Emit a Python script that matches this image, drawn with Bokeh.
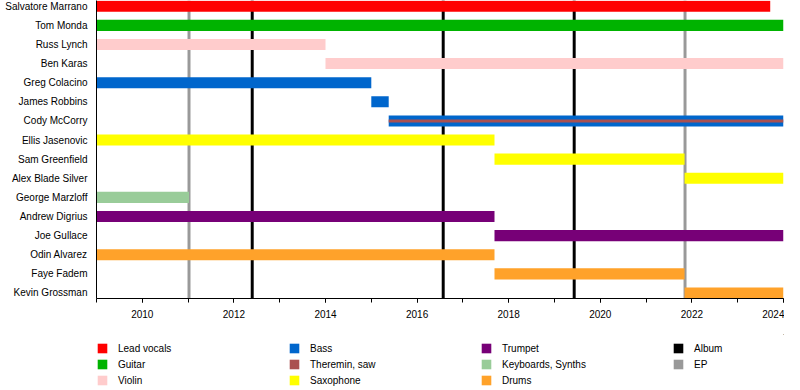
from bokeh.plotting import figure
from bokeh.layouts import column
from bokeh.models import (Range1d, FixedTicker, SingleIntervalTicker, Legend,
                          LegendItem, ColumnDataSource)
from bokeh.embed import file_html
from bokeh.resources import INLINE

members = ["Salvatore Marrano", "Tom Monda", "Russ Lynch", "Ben Karas",
           "Greg Colacino", "James Robbins", "Cody McCorry", "Ellis Jasenovic",
           "Sam Greenfield", "Alex Blade Silver", "George Marzloff",
           "Andrew Digrius", "Joe Gullace", "Odin Alvarez", "Faye Fadem",
           "Kevin Grossman"]

bar_member = members
bar_start = [2009, 2009, 2009, 2014, 2009, 2015.0, 2015.38, 2009, 2017.69,
             2021.84, 2009, 2009, 2017.69, 2009, 2017.69, 2021.84]
bar_end = [2023.71, 2024, 2014, 2024, 2015.0, 2015.38, 2024, 2017.69, 2021.84,
           2024, 2011.02, 2017.69, 2024, 2017.69, 2021.84, 2024]
bar_role = ["Lead vocals", "Guitar", "Violin", "Violin", "Bass", "Bass", "Bass",
            "Saxophone", "Saxophone", "Saxophone", "Keyboards, Synths",
            "Trumpet", "Trumpet", "Drums", "Drums", "Drums"]

stripe_member = ["Cody McCorry"]
stripe_start = [2015.38]
stripe_end = [2024]
stripe_role = ["Theremin, saw"]

roles = ["Lead vocals", "Guitar", "Violin", "Bass", "Theremin, saw",
         "Saxophone", "Trumpet", "Keyboards, Synths", "Drums"]
role_colors = ["#FF0000", "#00B300", "#FFCCCC", "#0066CC", "#AA5050",
               "#FFFF00", "#770077", "#99CC99", "#FFA22A"]

release_types = ["Album", "EP"]
release_colors = ["black", "#999999"]
album_years = [2012.40, 2016.57, 2019.43]
ep_years = [2011.02, 2021.85]

x_start, x_end = 2009, 2024

FONT = "Liberation Sans"

p = figure(frame_width=687, frame_height=298, output_backend="svg",
           toolbar_location=None,
           x_range=Range1d(x_start, x_end), y_range=Range1d(15.29, -0.3),
           min_border_left=96, min_border_right=1, min_border_top=0,
           min_border_bottom=36)
p.outline_line_color = None
p.xgrid.visible = False
p.ygrid.visible = False
p.background_fill_color = "white"
p.border_fill_color = "white"

rows = {m: i for i, m in enumerate(members)}

# release lines (behind bars)
line_top, line_bottom = -1, 17
p.vbar(x=album_years, top=line_top, bottom=line_bottom, width=0.065,
       fill_color=release_colors[0], line_color=None)
p.vbar(x=ep_years, top=line_top, bottom=line_bottom, width=0.065,
       fill_color=release_colors[1], line_color=None)

for role, col in zip(roles, role_colors):
    idx = [i for i, r in enumerate(bar_role) if r == role]
    if idx:
        src = ColumnDataSource(dict(
            y=[rows[bar_member[i]] for i in idx],
            left=[bar_start[i] for i in idx],
            right=[bar_end[i] for i in idx]))
        p.hbar(y="y", left="left", right="right", height=0.58, source=src,
               fill_color=col, line_color=None)

for role, col in zip(roles, role_colors):
    idx = [i for i, r in enumerate(stripe_role) if r == role]
    if idx:
        src = ColumnDataSource(dict(
            y=[rows[stripe_member[i]] for i in idx],
            left=[stripe_start[i] for i in idx],
            right=[stripe_end[i] for i in idx]))
        p.hbar(y="y", left="left", right="right", height=0.16, source=src,
               fill_color=col, line_color=None)

# axes
p.xaxis.ticker = SingleIntervalTicker(interval=2, num_minor_ticks=2)
p.xaxis.major_tick_in = 0
p.xaxis.minor_tick_in = 0
p.xaxis.major_tick_out = 4
p.xaxis.minor_tick_out = 4
p.xaxis.major_label_text_font = FONT
p.xaxis.major_label_text_font_size = "10px"
p.xaxis.major_label_text_color = "black"
p.xaxis.major_label_standoff = 7
p.xaxis.axis_line_color = "black"
p.xaxis.major_tick_line_color = "black"
p.xaxis.minor_tick_line_color = "black"

p.yaxis.ticker = FixedTicker(ticks=list(range(len(members))))
p.yaxis.major_label_overrides = {i: m for i, m in enumerate(members)}
p.yaxis.major_tick_out = 0
p.yaxis.major_tick_in = 0
p.yaxis.minor_tick_out = 0
p.yaxis.minor_tick_in = 0
p.yaxis.major_label_text_font = FONT
p.yaxis.major_label_text_font_size = "10px"
p.yaxis.major_label_text_color = "black"
p.yaxis.major_label_standoff = 9
p.yaxis.axis_line_color = "black"

# legend figure (swatches sit outside its visible range; only the legend shows)
lg = figure(width=784, height=54, output_backend="svg", toolbar_location=None,
            x_range=Range1d(0, 1), y_range=Range1d(0, 1),
            x_axis_location=None, y_axis_location=None,
            min_border_left=0, min_border_right=0, min_border_top=0,
            min_border_bottom=0)
lg.xgrid.visible = False
lg.ygrid.visible = False
lg.outline_line_color = None

items = []
for lab, col in zip(roles + release_types, role_colors + release_colors):
    r = lg.hbar(y=[5], left=[5], right=[6], height=1, fill_color=col,
                line_color=None)
    items.append(LegendItem(label=lab, renderers=[r]))

legend = Legend(items=items, nrows=3, orientation="vertical",
                location=(0, 2), glyph_width=12, glyph_height=12,
                label_standoff=10, label_width=166, label_height=12,
                spacing=4, padding=0, margin=0,
                label_text_font=FONT, label_text_font_size="10px",
                label_text_color="black",
                border_line_color=None, background_fill_alpha=0)
lg.add_layout(legend, "center")

layout = column(p, lg, spacing=0)
open("out.html", "w").write(file_html(layout, INLINE))
